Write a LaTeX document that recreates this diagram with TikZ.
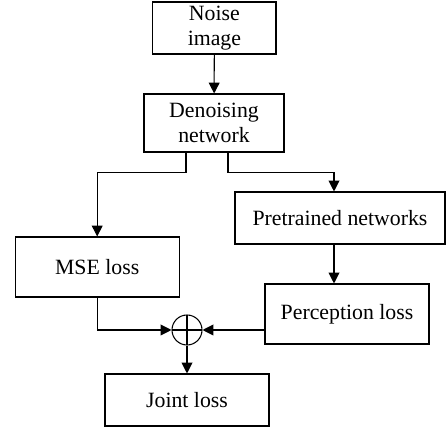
\documentclass[tikz,border=0pt]{standalone}
\usepackage{fontspec}
\setmainfont{Liberation Serif}
\usepackage{tikz}
\usetikzlibrary{arrows.meta,positioning,calc}

\begin{document}
\begin{tikzpicture}[
  font=\fontsize{15.5}{17.5}\selectfont,
  line width=0.75pt,
  box/.style={draw, align=center, inner sep=2pt},
  arr/.style={-{Triangle[length=2.7mm, width=2.7mm]}},
  sum/.style={draw, circle, minimum size=0.75cm, inner sep=0pt,
    path picture={\draw (path picture bounding box.north) -- (path picture bounding box.south)
      (path picture bounding box.west) -- (path picture bounding box.east);}}
]
  \useasboundingbox (0,0) rectangle (11.15,10.75);

  % main column
  \node[box, minimum width=3.08cm, minimum height=1.3cm] (noise) at (5.36,10.05) {Noise\\image};
  \node[box, minimum width=3.5cm, minimum height=1.45cm] (denoise) at (5.35,7.675) {Denoising\\network};

  % two branches
  \node[box, minimum width=4.1cm, minimum height=1.5cm] (mse) at (2.43,4.075) {MSE loss};
  \node[box, minimum width=5.25cm, minimum height=1.3cm] (pre) at (8.5,5.3) {Pretrained networks};
  \node[box, minimum width=4.1cm, minimum height=1.5cm] (perc) at (8.675,2.9) {Perception loss};

  % combine
  \node[sum] (plus) at (4.675,2.5) {};
  \node[box, minimum width=4.1cm, minimum height=1.3cm] (joint) at (4.675,0.75) {Joint loss};

  \draw[arr] (noise) -- (denoise);
  \draw[arr] ([xshift=-0.7cm]denoise.south) -- ++(0,-0.5) -| (mse.north);
  \draw[arr] ([xshift=0.35cm]denoise.south) -- ++(0,-0.5) -| ([xshift=-0.15cm]pre.north);
  \draw[arr] ([xshift=-0.15cm]pre.south) -- ([xshift=-0.15cm]pre.south |- perc.north);
  \draw[arr] (mse.south) |- (plus.west);
  \draw[arr] (perc.west |- plus) -- (plus.east);
  \draw[arr] (plus) -- (joint);
\end{tikzpicture}
\end{document}
